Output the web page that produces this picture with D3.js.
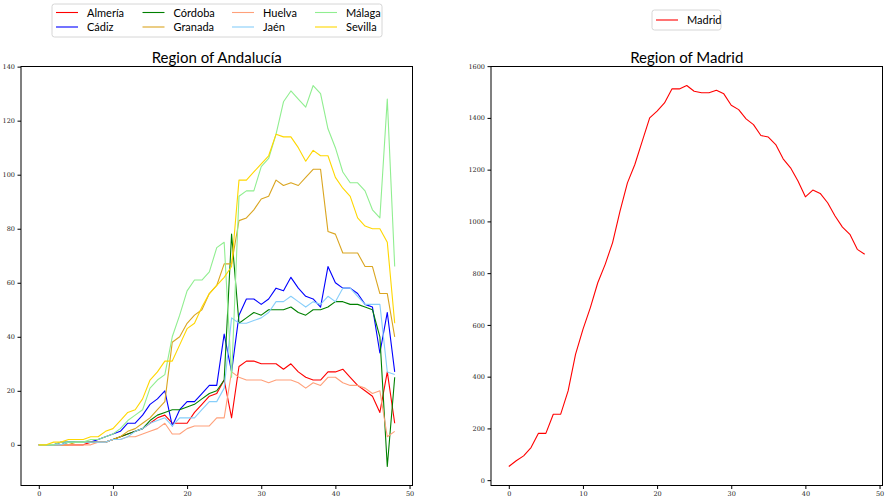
<!DOCTYPE html>
<html>
<head>
<meta charset="utf-8">
<script src="https://cdn.jsdelivr.net/npm/d3@7"></script>
<style>
  body { margin: 0; background: #fff; }
  .tick text { font-family: "DejaVu Serif", serif; font-size: 6.5px; fill: #222; }
  .tick line { stroke: #000; }
  .ttl { font-family: Lato, sans-serif; font-size: 15px; fill: #000; }
  .leg { font-family: Lato, sans-serif; font-size: 11px; fill: #000; }
</style>
</head>
<body>
<script>
// days since start
var days = d3.range(49);

var provinces = ['Almería', 'Cádiz', 'Córdoba', 'Granada', 'Huelva', 'Jaén', 'Málaga', 'Sevilla'];
var colors = ['red', 'blue', 'green', 'goldenrod', 'lightsalmon', 'lightskyblue', 'lightgreen', 'gold'];

var almeria = [0,0,0,0,0,0,0,1,1,1,2,3,4,5,6,8,10,11,8,8,8,12,15,18,19,24,10,29,31,31,30,30,30,28,30,27,25,24,24,27,27,28,25,22,20,18,12,27,8];
var cadiz   = [0,0,0,1,1,1,1,1,2,3,4,5,8,8,11,15,17,20,7,13,16,16,19,22,22,41,27,48,54,54,52,54,58,57,62,58,55,54,51,66,60,58,58,56,52,51,34,49,27];
var cordoba = [0,0,0,0,1,1,1,1,1,1,2,3,4,5,6,9,11,12,13,13,14,15,17,19,20,24,78,45,47,49,48,50,50,50,51,49,48,50,50,51,53,53,52,52,51,50,40,-8,25];
var granada = [0,0,0,0,0,1,1,1,1,1,2,3,5,6,8,10,13,16,38,40,45,48,50,56,59,67,67,83,84,87,91,92,98,96,97,96,99,102,102,79,78,71,71,71,66,66,56,56,40];
var huelva  = [0,0,0,0,0,0,0,0,1,1,2,2,3,3,4,5,6,8,4,4,6,7,7,7,10,10,27,25,24,24,24,23,24,24,24,23,21,23,22,25,25,23,22,22,21,19,20,3,5];
var jaen    = [0,0,0,0,1,1,1,1,1,1,2,2,3,5,6,8,9,10,7,10,10,10,13,16,16,21,47,45,45,46,47,49,53,53,55,53,51,53,52,55,53,58,58,55,52,52,52,27,26];
var malaga  = [0,0,0,1,1,1,1,2,2,3,4,6,9,11,13,21,24,26,40,48,57,61,61,64,73,75,25,92,94,94,103,106,115,127,131,128,125,133,130,117,110,101,97,97,94,87,84,128,66];
var sevilla = [0,0,1,1,2,2,2,3,3,5,6,9,12,13,17,24,27,31,31,37,43,45,51,56,59,62,66,98,98,101,104,107,115,114,114,110,105,109,107,107,99,95,92,84,81,80,80,75,45];

var madrid = [53,75,94,126,181,181,255,255,345,486,583,667,763,834,918,1040,1149,1220,1310,1400,1426,1458,1512,1512,1525,1503,1497,1497,1507,1493,1449,1432,1396,1374,1332,1326,1297,1242,1207,1156,1095,1121,1108,1072,1021,978,950,892,873];

var xTicks = [0, 10, 20, 30, 40, 50];
var leftTicks = [0, 20, 40, 60, 80, 100, 120, 140];
var rightTicks = [0, 200, 400, 600, 800, 1000, 1200, 1400, 1600];

var svg = d3.select('body').append('svg')
            .attr('width', 885)
            .attr('height', 498);

function padded(lo, hi) {
  var m = (hi - lo) * 0.05;
  return [lo - m, hi + m];
}

function panel(box, seriesList, cols, yTicks, title) {
  var x = d3.scaleLinear().domain(padded(0, 48)).range([box.left, box.right]);
  var all = d3.merge(seriesList);
  var y = d3.scaleLinear().domain(padded(d3.min(all), d3.max(all))).range([box.bottom, box.top]);

  var line = d3.line()
               .x(function(d, i) { return x(days[i]); })
               .y(function(d) { return y(d); });

  seriesList.forEach(function(s, k) {
    svg.append('path')
       .attr('d', line(s))
       .attr('fill', 'none')
       .attr('stroke', cols[k])
       .attr('stroke-width', 1.1)
       .attr('stroke-linejoin', 'round');
  });

  var gx = svg.append('g')
              .attr('transform', 'translate(0,' + box.bottom + ')')
              .call(d3.axisBottom(x).tickValues(xTicks).tickFormat(d3.format('d'))
                      .tickSize(3.5).tickPadding(2.5));
  gx.select('.domain').remove();

  var gy = svg.append('g')
              .attr('transform', 'translate(' + box.left + ',0)')
              .call(d3.axisLeft(y).tickValues(yTicks).tickFormat(d3.format('d'))
                      .tickSize(3.5).tickPadding(2.5));
  gy.select('.domain').remove();

  svg.append('rect')
     .attr('x', box.left).attr('y', box.top)
     .attr('width', box.right - box.left)
     .attr('height', box.bottom - box.top)
     .attr('fill', 'none')
     .attr('stroke', '#000')
     .attr('stroke-width', 1);

  svg.append('text')
     .attr('class', 'ttl')
     .attr('x', (box.left + box.right) / 2)
     .attr('y', box.top - 4)
     .attr('text-anchor', 'middle')
     .text(title);
}

panel({left: 21, right: 412.5, top: 66.5, bottom: 485.5},
      [almeria, cadiz, cordoba, granada, huelva, jaen, malaga, sevilla],
      colors, leftTicks, 'Region of Andalucía');

panel({left: 491, right: 882.5, top: 66.5, bottom: 485.5},
      [madrid], ['red'], rightTicks, 'Region of Madrid');

// legend for Andalucía, 4 columns x 2 rows
var legL = svg.append('g');
legL.append('rect')
    .attr('x', 52).attr('y', 4).attr('width', 330).attr('height', 33)
    .attr('rx', 2.5)
    .attr('fill', '#fff').attr('stroke', '#d6d6d6');
var colX = [56, 142.5, 232, 315];
provinces.forEach(function(p, k) {
  var cx = colX[Math.floor(k / 2)];
  var cy = k % 2 === 0 ? 12.5 : 27;
  legL.append('line')
      .attr('x1', cx).attr('x2', cx + 22)
      .attr('y1', cy).attr('y2', cy)
      .attr('stroke', colors[k]).attr('stroke-width', 1.1);
  legL.append('text')
      .attr('class', 'leg')
      .attr('x', cx + 31).attr('y', cy + 4)
      .text(p);
});

var legR = svg.append('g');
legR.append('rect')
    .attr('x', 652).attr('y', 10).attr('width', 69).attr('height', 20)
    .attr('rx', 2.5)
    .attr('fill', '#fff').attr('stroke', '#d6d6d6');
legR.append('line')
    .attr('x1', 656).attr('x2', 678)
    .attr('y1', 20).attr('y2', 20)
    .attr('stroke', 'red').attr('stroke-width', 1.1);
legR.append('text')
    .attr('class', 'leg')
    .attr('x', 687).attr('y', 24)
    .text('Madrid');
</script>
</body>
</html>
